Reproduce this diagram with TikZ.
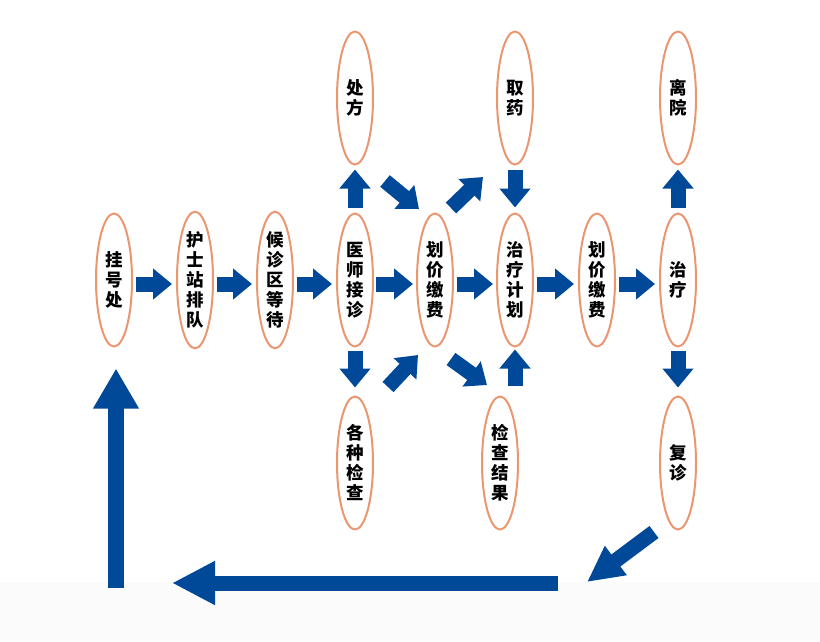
\documentclass[tikz,border=0pt]{standalone}
\usepackage{fontspec}
\newfontfamily\cjk{Noto Sans CJK SC}
\usetikzlibrary{shapes.geometric,arrows.meta}
\definecolor{ringc}{RGB}{234,150,112}
\definecolor{flowc}{RGB}{0,72,152}
\definecolor{bandc}{RGB}{252,251,252}

\begin{document}
\begin{tikzpicture}[x=1pt,y=-1pt]

      \useasboundingbox (0,0) rectangle (820,641);
      \fill[bandc] (0,582) rectangle (820,641);

      \begin{scope}[every node/.style={ellipse,draw=ringc,line width=2pt,
          minimum width=36pt,minimum height=133pt,inner sep=0pt,align=center,
          font=\cjk\bfseries\fontsize{17.5}{20}\selectfont}]
        \node (1)  at (114,280) {挂\\号\\处};
        \node (2)  at (195,280) {护\\士\\站\\排\\队};
        \node (3)  at (275,280) {候\\诊\\区\\等\\待};
        \node (4)  at (355,280) {医\\师\\接\\诊};
        \node (5)  at (435,280) {划\\价\\缴\\费};
        \node (6)  at (515,280) {治\\疗\\计\\划};
        \node (7)  at (597,280) {划\\价\\缴\\费};
        \node (8)  at (678,280) {治\\疗};
        \node (9)  at (355,98)  {处\\方};
        \node (10) at (515,98)  {取\\药};
        \node (11) at (678,98)  {离\\院};
        \node (12) at (355,463) {各\\种\\检\\查};
        \node (13) at (500,463) {检\\查\\结\\果};
        \node (14) at (678,463) {复\\诊};
      \end{scope}

      \coordinate (a) at (385,181);
      \coordinate (b) at (419,209);
      \coordinate (c) at (451,208);
      \coordinate (d) at (483,177);
      \coordinate (e) at (388,387);
      \coordinate (f) at (418,355);
      \coordinate (g) at (451,359);
      \coordinate (h) at (487,385);
      \coordinate (i) at (654,532);
      \coordinate (j) at (587,582);
      \coordinate (k) at (558,583);
      \coordinate (l) at (172,583);
      \coordinate (m) at (116,588);

      \begin{scope}[every edge/.style={draw=flowc,line width=15pt,
          -{Triangle[length=19pt,width=30pt]}}]
        \path ([yshift=-4pt]1.east) edge[shorten <=3pt,shorten >=4pt] ([yshift=-4pt]2.west);
        \path ([yshift=-4pt]2.east) edge[shorten <=3pt,shorten >=4pt] ([yshift=-4pt]3.west);
        \path ([yshift=-4pt]3.east) edge[shorten <=3pt,shorten >=4pt] ([yshift=-4pt]4.west);
        \path ([yshift=-4pt]4.east) edge[shorten <=2pt,shorten >=3pt] ([yshift=-4pt]5.west);
        \path ([yshift=-4pt]5.east) edge[shorten <=3pt,shorten >=3pt] ([yshift=-4pt]6.west);
        \path ([yshift=-4pt]6.east) edge[shorten <=3pt,shorten >=4pt] ([yshift=-4pt]7.west);
        \path ([yshift=-4pt]7.east) edge[shorten <=3pt,shorten >=4pt] ([yshift=-4pt]8.west);
        \path (4.north)  edge[shorten <=5pt,shorten >=4pt] (9.south);
        \path (10.south) edge[shorten <=4pt,shorten >=5pt] (6.north);
        \path (8.north)  edge[shorten <=5pt,shorten >=4pt] (11.south);
        \path (4.south)  edge[shorten <=3pt,shorten >=8pt] (12.north);
        \path (13.north -| 6.south) edge[shorten <=10pt,shorten >=2pt] (6.south);
        \path (8.south)  edge[shorten <=3pt,shorten >=8pt] (14.north);
        \path (a) edge (b);
        \path (c) edge (d);
        \path (e) edge (f);
        \path (g) edge (h);
        \path (i) edge[-{Triangle[length=36pt,width=34pt]}] (j);
        \path (k) edge[-{Triangle[length=43pt,width=41pt]}] (l);
        \path (m) edge[line width=16pt,shorten >=21pt,
          -{Triangle[length=40pt,width=43pt]}] (m |- 1.south);
      \end{scope}

    \end{tikzpicture}
\end{document}
